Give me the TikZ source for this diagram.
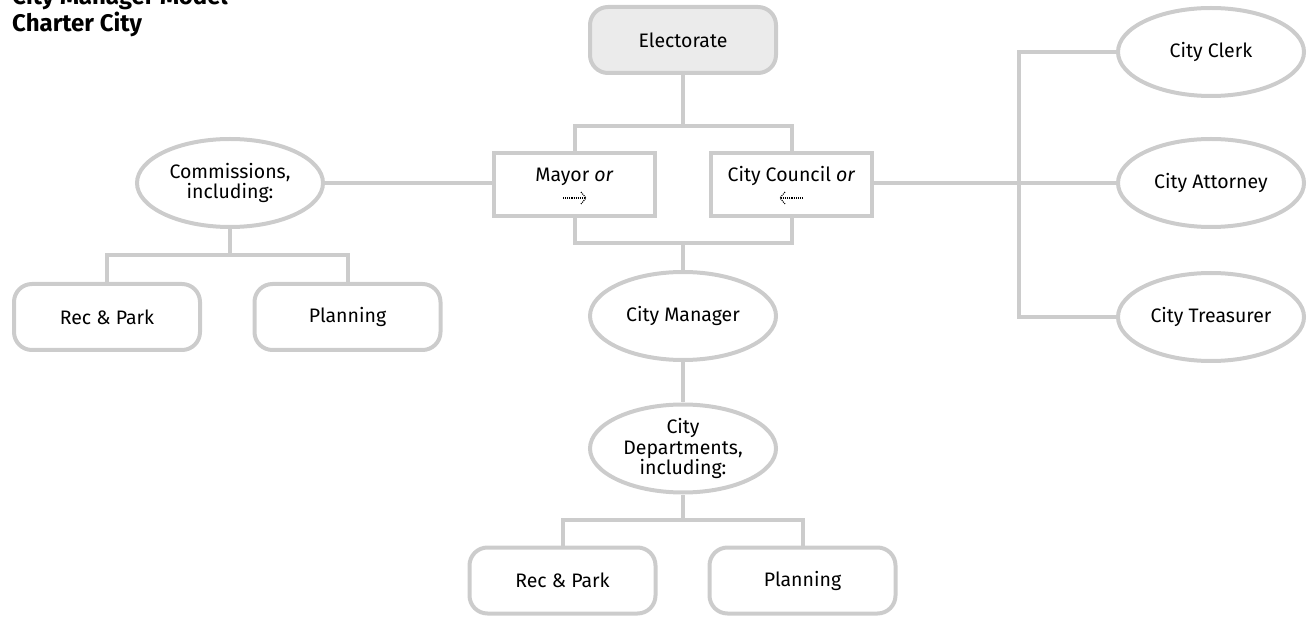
\documentclass[tikz,border=0pt]{standalone}
\usepackage{fontspec}
\setmainfont{Fira Sans}
\usetikzlibrary{shapes.geometric}
\definecolor{lg}{HTML}{CCCCCC}
\definecolor{fillg}{HTML}{EBEBEB}
\begin{document}
\begin{tikzpicture}[x=1pt,y=-1pt,
  txt/.style={font=\fontsize{19.5}{20.5}\selectfont, align=center, text=black},
  conn/.style={draw=lg, line width=4pt},
  rbox/.style={txt, draw=lg, line width=4pt, rounded corners=18pt, minimum width=186pt, minimum height=66pt, inner sep=0pt},
  sbox/.style={draw=lg, line width=4pt, minimum width=161pt, minimum height=63pt, inner sep=0pt},
  oval/.style={txt, ellipse, draw=lg, line width=4pt, minimum width=186pt, minimum height=88pt, inner sep=0pt},
  dotarrow/.style={densely dotted, line width=1.1pt, black},
  titlefont/.style={font=\bfseries\fontsize{24}{28}\selectfont, anchor=base west, inner sep=0pt}
]
\useasboundingbox (0,0) rectangle (1312,617);
% title
\node[titlefont] (title1) at (12,5) {City Manager Model};
\node[titlefont] (title2) at (12,32) {Charter City};
% nodes
\node[rbox, fill=fillg] (elect) at (683,40) {Electorate};
\node[sbox] (mayor) at (574.5,185) {};
\node[sbox] (council) at (791.5,185) {};
\node[txt, anchor=base] (mayort) at (574.5,182) {Mayor \textit{or}};
\node[txt, anchor=base] (councilt) at (791.5,182) {City Council \textit{or}};
\node[oval] (comm) at (230,183) {Commissions,\\including:};
\node[rbox] (crp) at (107,317) {Rec \& Park};
\node[rbox] (cpl) at (347.5,317) {Planning};
\node[oval] (mgr) at (683,316) {City Manager};
\node[oval] (dept) at (683,448.5) {City\\Departments,\\including:};
\node[rbox] (drp) at (562.5,580.5) {Rec \& Park};
\node[rbox] (dpl) at (802.5,580.5) {Planning};
\node[oval] (clerk) at (1211,52) {City Clerk};
\node[oval] (atty) at (1211,183) {City Attorney};
\node[oval] (treas) at (1211,317) {City Treasurer};
% dotted arrows
\coordinate (ma1) at (563,198);
\coordinate (ma2) at (586,198);
\draw[dotarrow] (ma1) -- (ma2);
\draw[dotarrow] (581,192) -- (ma2) -- (581,204);
\coordinate (ca1) at (803,198);
\coordinate (ca2) at (780,198);
\draw[dotarrow] (ca1) -- (ca2);
\draw[dotarrow] (785,192) -- (ca2) -- (785,204);
% connectors
\coordinate (tb) at (683,126);
\draw[conn] (elect.south) -- (tb);
\draw[conn] (mayor.north) |- (tb) -| (council.north);
\coordinate (bb) at (683,243);
\draw[conn] (mayor.south) |- (bb) -| (council.south);
\draw[conn] (bb) -- (mgr.north);
\draw[conn] (mgr.south) -- (dept.north);
\coordinate (db) at (683,520);
\draw[conn] (dept.south) -- (db);
\draw[conn] (drp.north) |- (db) -| (dpl.north);
\draw[conn] (comm.east) -- (comm.east -| mayor.west);
\coordinate (cb) at (230,255);
\draw[conn] (comm.south) -- (cb);
\draw[conn] (crp.north) |- (cb) -| (cpl.north);
\coordinate (rv) at (1019,183);
\draw[conn] (council.east |- atty.west) -- (atty.west);
\draw[conn] (clerk.west) -| (rv) |- (treas.west);
\end{tikzpicture}
\end{document}
